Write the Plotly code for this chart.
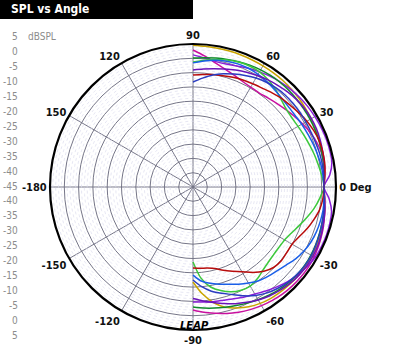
import plotly.graph_objects as go

W, H = 396, 355

angles = [90, 85, 80, 75, 70, 65, 60, 55, 50, 45, 40, 35, 30, 25, 20, 15, 10, 5, 0,
          -5, -10, -15, -20, -25, -30, -35, -40, -45, -50, -55, -60, -65, -70, -75, -80, -85, -90]

olive = [4.6, 4.4, 4.3, 4.2, 4.1, 4.0, 3.9, 3.8, 3.7, 3.5, 3.3, 3.0, 2.7, 2.3, 2.0, 1.6, 1.3, 1.0, 0.8,
         1.2, 1.8, 2.2, 2.6, 2.9, 3.0, 3.1, 3.1, 3.0, 2.8, 2.5, 2.0, 1.2, 0.0, -1.5, -4.0, -7.5, -11.8]
magenta = [2.9, 1.0, -0.8, -2.2, -3.3, -4.2, -4.7, -4.8, -4.3, -3.6, -2.8, -1.8, -0.8, 0.2, 1.0, 1.5, 1.6, 1.2, 0.8,
           1.2, 1.8, 2.4, 3.0, 3.5, 3.9, 4.1, 4.1, 4.0, 3.8, 3.4, 2.9, 2.3, 1.6, 0.8, -0.2, -1.0, -2.0]
violet = [1.2, 0.3, -0.4, -0.5, 0.0, 0.8, 1.5, 2.2, 2.8, 3.3, 3.7, 4.0, 4.2, 4.4, 4.5, 4.5, 4.3, 3.0, 0.8,
          2.8, 4.2, 4.5, 4.6, 4.5, 4.3, 3.6, 2.8, 1.8, 0.6, -0.6, -1.8, -2.6, -3.4, -4.0, -4.3, -4.6, -4.8]
dkgreen = [0.1, 0.4, 0.8, 1.2, 1.6, 2.0, 2.3, 2.5, 2.6, 2.6, 2.5, 2.4, 2.3, 2.1, 1.9, 1.6, 1.4, 1.1, 0.8,
           1.1, 1.5, 1.8, 2.1, 2.4, 2.6, 2.7, 2.6, 2.3, 1.8, 1.2, 0.5, -0.2, -0.9, -1.5, -2.0, -2.5, -3.0]
green = [-1.3, -0.5, 0.3, 1.0, 1.5, 1.7, 1.5, 0.8, -0.3, -1.5, -2.5, -2.8, -2.6, -2.2, -1.7, -1.1, -0.5, 0.2, 0.8,
         -0.5, -2.0, -3.8, -5.5, -7.0, -8.0, -8.3, -8.2, -7.8, -7.0, -5.8, -5.0, -5.2, -6.0, -7.5, -9.5, -13.0, -18.8]
blue = [-1.6, -0.8, 0.0, 0.5, 0.8, 0.8, 0.5, 0.0, -0.6, -1.1, -1.4, -1.4, -1.1, -0.8, -0.4, 0.0, 0.4, 0.6, 0.8,
        1.0, 1.2, 1.1, 0.9, 0.5, -0.2, -1.2, -2.5, -3.5, -4.2, -5.0, -6.2, -7.5, -8.8, -9.8, -10.8, -12.0, -14.2]
purple = [-4.1, -3.6, -3.0, -2.3, -1.5, -0.7, 0.0, 0.7, 1.3, 1.9, 2.4, 2.7, 2.8, 2.7, 2.4, 2.0, 1.6, 1.1, 0.8,
          1.2, 1.8, 2.3, 2.8, 3.2, 3.4, 3.4, 3.2, 2.8, 2.2, 1.5, 0.6, -0.5, -1.6, -2.8, -4.0, -5.0, -6.0]
red = [-5.8, -5.5, -5.1, -4.7, -4.2, -3.7, -3.3, -2.8, -2.0, -1.2, -0.6, 0.2, 1.0, 1.6, 2.0, 2.0, 1.8, 1.3, 0.8,
       0.6, 0.0, -1.2, -2.5, -4.0, -5.0, -5.0, -4.8, -5.2, -6.5, -8.5, -10.8, -12.5, -14.0, -15.5, -16.2, -16.5, -16.7]
dkblue = [-8.3, -6.8, -5.2, -4.0, -3.0, -2.0, -1.0, -0.3, 0.2, 0.5, 0.6, 0.6, 0.5, 0.5, 0.6, 0.8, 0.9, 0.9, 0.8,
          1.1, 1.5, 1.8, 2.2, 2.5, 2.8, 2.8, 2.5, 2.0, 1.2, 0.2, -1.2, -3.0, -5.0, -6.5, -8.0, -10.0, -12.5]

series = [
    ("olive", olive, "#c9a400"),
    ("magenta", magenta, "#c8109e"),
    ("violet", violet, "#8a1ed8"),
    ("dkgreen", dkgreen, "#0f8a2a"),
    ("green", green, "#3cc83c"),
    ("blue", blue, "#1a5fe8"),
    ("purple", purple, "#6a14b8"),
    ("red", red, "#b80c0c"),
    ("dkblue", dkblue, "#2a3cc0"),
]

r_min, r_max = -45, 5
major_rings = [-40, -35, -30, -25, -20, -15, -10, -5, 0]
minor_rings = [v for v in range(-44, 5) if v % 5 != 0]
tick_angles = [0, 30, 60, 90, 120, 150, 180, 210, 240, 270, 300, 330]
tick_labels = ["0 Deg", "30", "60", "90", "120", "150", "-180", "-150", "-120", "-90", "-60", "-30"]
scale_labels = ["5", "0", "-5", "-10", "-15", "-20", "-25", "-30", "-35", "-40", "-45",
                "-40", "-35", "-30", "-25", "-20", "-15", "-10", "-5", "0", "5"]

fig = go.Figure()

circle_theta = list(range(0, 361, 2))
for v in minor_rings:
    fig.add_trace(go.Scatterpolar(
        r=[v] * len(circle_theta), theta=circle_theta, mode="lines",
        line=dict(color="#dcdcee", width=0.7, dash="dot"),
        hoverinfo="skip", showlegend=False))

for name, vals, col in series:
    fig.add_trace(go.Scatterpolar(
        r=vals, theta=angles, mode="lines", name=name,
        line=dict(color=col, width=1.5, shape="spline", smoothing=0.8),
        showlegend=False))

cx, cy, R = 193, 187, 143
label_font = dict(family="Liberation Sans Narrow, DejaVu Sans Condensed, Arial Narrow, sans-serif",
                  size=11, color="#111111", weight="bold")

fig.update_layout(
    width=W, height=H,
    margin=dict(l=0, r=0, t=0, b=0),
    paper_bgcolor="white",
    showlegend=False,
    polar=dict(
        domain=dict(x=[(cx - R) / W, (cx + R) / W], y=[(H - cy - R) / H, (H - cy + R) / H]),
        bgcolor="white",
        radialaxis=dict(range=[r_min, r_max], tickvals=major_rings, showticklabels=False,
                        ticks="", showline=False, gridcolor="#767688", gridwidth=1),
        angularaxis=dict(rotation=0, direction="counterclockwise", tickvals=tick_angles,
                         ticktext=tick_labels, ticks="", showline=True, linecolor="#000000",
                         linewidth=2.2, gridcolor="#767688", gridwidth=1, tickfont=label_font),
    ),
)

# title bar
fig.add_shape(type="rect", xref="paper", yref="paper", x0=0, x1=193 / W, y0=1 - 19 / H, y1=1,
              fillcolor="black", line=dict(width=0), layer="above")
fig.add_annotation(text="SPL vs Angle", xref="paper", yref="paper", x=9 / W, y=1 - 9.5 / H,
                   xanchor="left", yanchor="middle", showarrow=False,
                   font=dict(family="Liberation Sans Narrow, DejaVu Sans Condensed, Arial Narrow, sans-serif",
                             size=12, color="white", weight="bold"))

# left dB scale
scale_font = dict(family="Liberation Sans Narrow, DejaVu Sans Condensed, sans-serif", size=10, color="#8c8c8c")
for i, lab in enumerate(scale_labels):
    ypix = 37 + 14.9 * i
    fig.add_annotation(text=lab, xref="paper", yref="paper", x=20 / W, y=1 - ypix / H,
                       xanchor="right", yanchor="middle", showarrow=False, font=scale_font)
fig.add_annotation(text="dBSPL", xref="paper", yref="paper", x=26 / W, y=1 - 37 / H,
                   xanchor="left", yanchor="middle", showarrow=False, font=scale_font)

# logo
fig.add_annotation(text="<i>LEAP</i>", xref="paper", yref="paper", x=194 / W, y=1 - 325.5 / H,
                   xanchor="center", yanchor="middle", showarrow=False,
                   font=dict(family="DejaVu Sans, sans-serif", size=10, color="#000000", weight="bold"))

fig.write_html("out.html")
